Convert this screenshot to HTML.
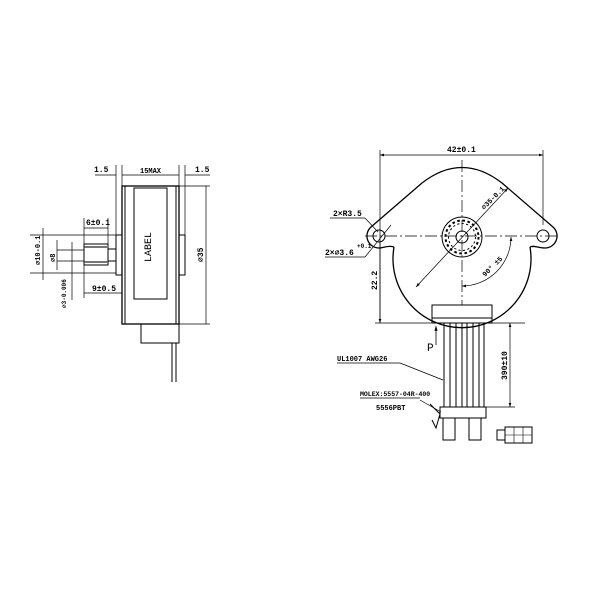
<!DOCTYPE html>
<html><head><style>
html,body{margin:0;padding:0;background:#fff;}
svg{display:block;}
text{font-family:"Liberation Mono","DejaVu Sans Mono",monospace;fill:#000;}
</style></head><body>
<svg width="600" height="600" viewBox="0 0 600 600" xmlns="http://www.w3.org/2000/svg">
<defs><marker id="a" markerWidth="6" markerHeight="6" refX="6" refY="3" orient="auto-start-reverse"><path d="M0,1 L6,3 L0,5 z" fill="#000"/></marker></defs>
<g stroke="#000" fill="none" stroke-width="1">
<!-- LEFT VIEW -->
<rect x="122" y="186" width="57" height="138" stroke-width="1.3"/>
<line x1="125" y1="186" x2="125" y2="324"/>
<line x1="176" y1="186" x2="176" y2="324"/>
<rect x="134" y="188" width="33" height="111"/>
<rect x="116" y="235" width="6" height="40"/>
<rect x="179" y="235" width="6" height="40"/>
<rect x="84" y="244" width="24" height="21"/>
<line x1="84" y1="247" x2="108" y2="247" stroke-width="2" stroke="#777"/>
<line x1="84" y1="262" x2="108" y2="262" stroke-width="2" stroke="#777"/>
<rect x="108" y="249" width="8" height="12"/>
<rect x="141" y="324" width="38" height="19"/>
<line x1="172" y1="343" x2="172" y2="382"/>
<line x1="176" y1="343" x2="176" y2="382"/>
<!-- left dims -->
<line x1="30" y1="235" x2="116" y2="235" stroke-width="0.7"/>
<line x1="30" y1="273" x2="116" y2="273" stroke-width="0.7"/>
<line x1="57" y1="250" x2="84" y2="250" stroke-width="0.7"/>
<line x1="57" y1="261" x2="84" y2="261" stroke-width="0.7"/>
<line x1="43" y1="228" x2="43" y2="280" stroke-width="0.7"/>
<line x1="57" y1="240" x2="57" y2="270" stroke-width="0.7"/>
<line x1="72" y1="242" x2="72" y2="300" stroke-width="0.7"/>
<line x1="84" y1="218" x2="84" y2="298" stroke-width="0.7"/>
<line x1="108" y1="218" x2="108" y2="244" stroke-width="0.7"/>
<line x1="84" y1="228" x2="108" y2="228" stroke-width="0.7"/>
<line x1="84" y1="293" x2="122" y2="293" stroke-width="0.7"/>
<line x1="116" y1="165" x2="116" y2="235" stroke-width="0.7"/>
<line x1="122" y1="165" x2="122" y2="186" stroke-width="0.7"/>
<line x1="179" y1="165" x2="179" y2="186" stroke-width="0.7"/>
<line x1="185" y1="165" x2="185" y2="235" stroke-width="0.7"/>
<line x1="122" y1="175" x2="179" y2="175" stroke-width="0.7"/>
<line x1="95" y1="175" x2="116" y2="175" stroke-width="0.7"/>
<line x1="185" y1="175" x2="210" y2="175" stroke-width="0.7"/>
<line x1="179" y1="186" x2="210" y2="186" stroke-width="0.7"/>
<line x1="179" y1="324" x2="210" y2="324" stroke-width="0.7"/>
<line x1="206" y1="186" x2="206" y2="324" stroke-width="0.7"/>
<!-- RIGHT VIEW motor outline -->
<path d="M394,247 A69,69 0 1 0 530,247" stroke-width="1.3"/>
<path d="M394,247 C388,245 384,248 379,248 A12,12 0 0 1 371,227 L422,183 Q462,152 502,183 L553,227 A12,12 0 0 1 545,248 C538,248 534,245 530,247" stroke-width="1.3"/>
<circle cx="379" cy="236" r="6"/>
<circle cx="543" cy="236" r="6"/>
<circle cx="462" cy="237" r="20" stroke-width="1"/>
<circle cx="462" cy="237" r="16.5" stroke-dasharray="2.6 2.6" stroke-width="2"/>
<circle cx="462" cy="237" r="13.5" stroke-dasharray="2.2 2.3"/>
<circle cx="462" cy="237" r="6"/>
<line x1="365" y1="236" x2="560" y2="236" stroke-dasharray="12 3 2 3" stroke-width="0.7"/>
<line x1="462" y1="160" x2="462" y2="305" stroke-dasharray="12 3 2 3" stroke-width="0.7"/>
<line x1="416" y1="287" x2="508" y2="188" stroke-width="0.7" marker-start="url(#a)" marker-end="url(#a)"/>
<path d="M511,237 A49,49 0 0 1 462,286" stroke-width="0.7" marker-start="url(#a)" marker-end="url(#a)"/>
<rect x="432" y="305" width="60" height="18"/>
<line x1="432" y1="318" x2="492" y2="318"/>
<line x1="375" y1="323" x2="525" y2="323" stroke-width="0.8"/>
<line x1="380" y1="150" x2="380" y2="323" stroke-width="0.7"/>
<line x1="543" y1="150" x2="543" y2="225" stroke-width="0.7"/>
<line x1="380" y1="155" x2="543" y2="155" stroke-width="0.7" marker-start="url(#a)" marker-end="url(#a)"/>
<line x1="380" y1="240" x2="380" y2="323" stroke-width="0.7" marker-end="url(#a)"/>
<!-- wires -->
<line x1="444" y1="323" x2="444" y2="407"/>
<line x1="450" y1="323" x2="450" y2="407"/>
<line x1="456" y1="323" x2="456" y2="407"/>
<line x1="462" y1="323" x2="462" y2="407"/>
<line x1="467" y1="323" x2="467" y2="407"/>
<line x1="473" y1="323" x2="473" y2="407"/>
<line x1="479" y1="323" x2="479" y2="407"/>
<line x1="484" y1="323" x2="484" y2="407"/>
<rect x="440" y="407" width="46" height="11"/>
<rect x="443" y="418" width="12" height="22"/>
<rect x="469" y="418" width="12" height="22"/>
<path d="M430,404 L440,414 L436,428 L432,420" />
<line x1="486" y1="407" x2="515" y2="407" stroke-width="0.7"/>
<line x1="510" y1="323" x2="510" y2="407" stroke-width="0.7" marker-start="url(#a)" marker-end="url(#a)"/>
<line x1="436" y1="345" x2="436" y2="326" stroke-width="0.8" marker-end="url(#a)"/>
<line x1="337" y1="363" x2="400" y2="363" stroke-width="0.7"/>
<line x1="400" y1="363" x2="443" y2="380" stroke-width="0.7"/>
<line x1="360" y1="398" x2="420" y2="398" stroke-width="0.7"/>
<line x1="420" y1="400" x2="441" y2="412" stroke-width="0.7"/>
<line x1="330" y1="218" x2="365" y2="218" stroke-width="0.7"/>
<line x1="365" y1="218" x2="378" y2="232" stroke-width="0.7"/>
<line x1="325" y1="257" x2="365" y2="257" stroke-width="0.7"/>
<line x1="365" y1="257" x2="391" y2="225" stroke-width="0.7"/>
<rect x="497" y="430" width="8" height="10"/>
<rect x="505" y="427" width="27" height="16"/>
<g stroke-width="0.6"><line x1="514" y1="427" x2="514" y2="443"/><line x1="523" y1="427" x2="523" y2="443"/><line x1="505" y1="435" x2="532" y2="435"/></g>
</g>
<g font-size="8" font-weight="bold">
<text x="94" y="172">1.5</text>
<text x="140" y="173" font-size="7">15MAX</text>
<text x="195" y="172">1.5</text>
<text x="86" y="225">6±0.1</text>
<text x="92" y="291">9±0.5</text>
<text transform="translate(151,262) rotate(-90)" font-size="10" font-weight="normal" font-family="Liberation Serif">LABEL</text>
<text transform="translate(203,262) rotate(-90)">⌀35</text>
<text transform="translate(40,265) rotate(-90)" font-size="7">⌀10-0.1</text>
<text transform="translate(55,262) rotate(-90)" font-size="7">⌀8</text>
<text transform="translate(66,308) rotate(-90)" font-size="6">⌀3-0.006</text>
<text x="447" y="152">42±0.1</text>
<text x="333" y="216">2×R3.5</text>
<text x="325" y="255">2×⌀3.6</text>
<text x="357" y="248" font-size="6">+0.1</text>
<text transform="translate(377,290) rotate(-90)">22.2</text>
<text transform="translate(484,210) rotate(-45)" font-size="7">⌀35-0.1</text>
<text transform="translate(485,277) rotate(-45)" font-size="7">90° ±5</text>
<text x="427" y="351" font-size="11" font-weight="normal" font-family="Liberation Serif">P</text>
<text transform="translate(507,380) rotate(-90)">390±10</text>
<text x="337" y="361" font-size="7">UL1007  AWG26</text>
<text x="360" y="396" font-size="6.5">MOLEX:5557-04R-400</text>
<text x="376" y="410" font-size="7">5556PBT</text>
</g>
</svg>
</body></html>
